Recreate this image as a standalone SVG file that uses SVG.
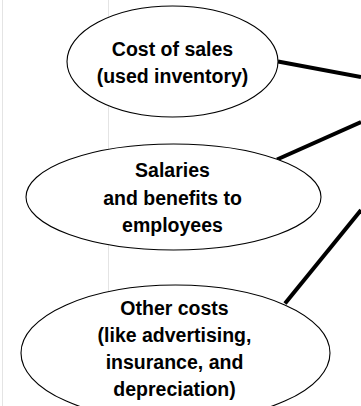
<svg xmlns="http://www.w3.org/2000/svg" width="361" height="406" viewBox="0 0 361 406">
<style>
.bg{stroke:#e4e4e4;stroke-width:1}
.node ellipse{fill:#fff;stroke:#000;stroke-width:1.1}
.node text{font-family:"Liberation Sans",Arial,sans-serif;font-weight:bold;font-size:19.5px;fill:#000;text-anchor:middle}
#connectors line{stroke:#000;stroke-width:4;stroke-linecap:butt}
</style>
<rect width="361" height="406" fill="#fff"/>
<line class="bg" x1="2.5" y1="0" x2="2.5" y2="406"/>
<line class="bg" x1="108.5" y1="0" x2="108.5" y2="406"/>
<g id="connectors">
<line x1="278" y1="61.5" x2="361" y2="77"/>
<line x1="277" y1="159.5" x2="361" y2="122"/>
<line x1="285" y1="303.5" x2="361" y2="210"/>
</g>
<g id="node-cost-of-sales" class="node">
<ellipse cx="172.5" cy="61.5" rx="105.5" ry="55.5"/>
<text x="172.5" y="56">Cost of sales</text>
<text x="172.5" y="83">(used inventory)</text>
</g>
<g id="node-salaries" class="node">
<ellipse cx="173.5" cy="197" rx="147.5" ry="53"/>
<text x="172.5" y="177">Salaries</text>
<text x="172.5" y="204.5">and benefits to</text>
<text x="172.5" y="232">employees</text>
</g>
<g id="node-other-costs" class="node">
<ellipse cx="175.5" cy="353" rx="154.5" ry="68"/>
<text x="174.5" y="315">Other costs</text>
<text x="174.5" y="342">(like advertising,</text>
<text x="174.5" y="369">insurance, and</text>
<text x="174.5" y="396">depreciation)</text>
</g>
</svg>
